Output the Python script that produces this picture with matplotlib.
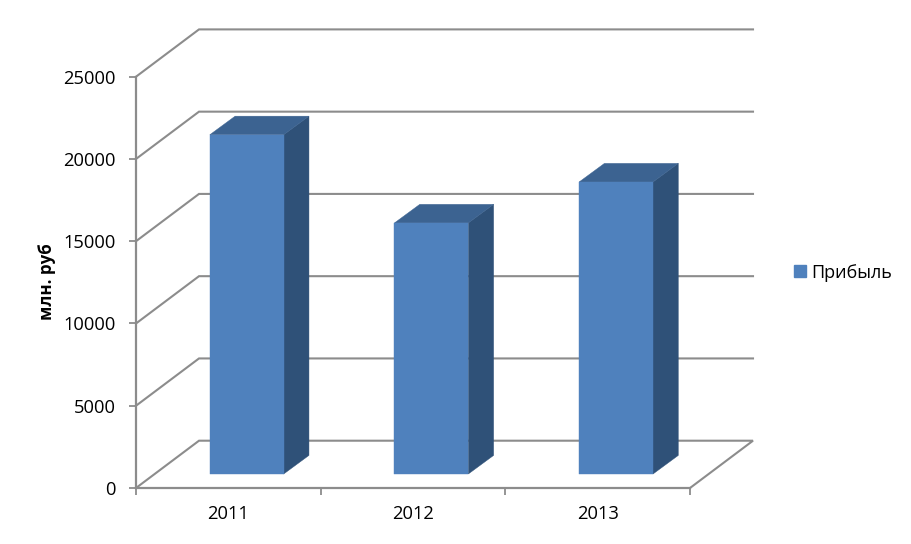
import matplotlib
matplotlib.use("Agg")
import matplotlib.pyplot as plt
from matplotlib.patches import Polygon, Patch
from matplotlib.transforms import IdentityTransform

plt.rcParams['font.family'] = ['Open Sans', 'DejaVu Sans']

years = ['2011', '2012', '2013']
profit = [20620, 15260, 17750]
y_ticks = [0, 5000, 10000, 15000, 20000, 25000]
series_name = 'Прибыль'
y_label = 'млн. руб'

W, H = 912, 544
AX_L, AX_R, AX_B, AX_T = 136, 690, 488, 76.7
WALL_DX, WALL_DY = 63, 47.3      # plot depth in pixels
BAR_DX, BAR_DY = 18.4, 14        # gap from front plane to bar front
DEPTH_DX, DEPTH_DY = 25.3, 18.6  # bar depth
BAR_W = 0.4
GRID = '#8C8C8C'
FRONT, SIDE, TOP = '#4F81BD', '#2F5178', '#3C6391'
FS = 13.2

fig = plt.figure(figsize=(W / 100, H / 100), dpi=100, facecolor='white')
ax = fig.add_axes([AX_L / W, 1 - AX_B / H, (AX_R - AX_L) / W, (AX_B - AX_T) / H])
ax.set_xlim(0, len(years))
ax.set_ylim(0, 25000)
ax.patch.set_visible(False)

for s in ('top', 'right'):
    ax.spines[s].set_visible(False)
for s in ('left', 'bottom'):
    ax.spines[s].set_color(GRID)
    ax.spines[s].set_linewidth(1.6)

ax.set_yticks(y_ticks)
ax.set_xticks(range(len(years) + 1))
ax.set_xticklabels([])
ax.tick_params(axis='both', length=5, width=1.3, color=GRID, labelsize=FS, labelcolor='black')
ax.tick_params(axis='y', pad=9.5)


def to_px(x, y, dx=0.0, dy=0.0):
    px, py = ax.transData.transform((x, y))
    return px + dx, py + dy


def add_poly(pts, color, z):
    ax.add_patch(Polygon(pts, closed=True, facecolor=color, edgecolor=color, linewidth=0.3,
                         transform=IdentityTransform(), clip_on=False, zorder=z))


# walls and gridlines
for t in y_ticks:
    a = to_px(0, t)
    b = to_px(0, t, WALL_DX, WALL_DY)
    c = to_px(len(years), t, WALL_DX, WALL_DY)
    pts = [a, b, c]
    if t == 0:
        pts.append(to_px(len(years), 0))
    ax.plot(*zip(*pts), color=GRID, lw=1.5, transform=IdentityTransform(), clip_on=False, zorder=1,
            solid_joinstyle='miter')

# bars
for i, v in enumerate(profit):
    xl, xr = i + 0.5 - BAR_W / 2, i + 0.5 + BAR_W / 2
    d0 = (BAR_DX, BAR_DY)
    d1 = (BAR_DX + DEPTH_DX, BAR_DY + DEPTH_DY)
    add_poly([to_px(xr, 0, *d0), to_px(xr, v, *d0), to_px(xr, v, *d1), to_px(xr, 0, *d1)], SIDE, 3)
    add_poly([to_px(xl, v, *d0), to_px(xr, v, *d0), to_px(xr, v, *d1), to_px(xl, v, *d1)], TOP, 3)
    add_poly([to_px(xl, 0, *d0), to_px(xr, 0, *d0), to_px(xr, v, *d0), to_px(xl, v, *d0)], FRONT, 4)

# category labels
for i, lab in enumerate(years):
    fig.text(to_px(i + 0.5, 0)[0] / W, 1 - 514 / H, lab, ha='center', va='center', fontsize=FS, color='black')

fig.text(47.5 / W, 1 - 281.5 / H, y_label, rotation=90, ha='center', va='center',
         fontsize=12.2, fontweight='bold', color='black')

fig.legend(handles=[Patch(facecolor=FRONT, edgecolor=FRONT, label=series_name)],
           loc='center left', bbox_to_anchor=(794 / W, 1 - 272.5 / H), frameon=False,
           fontsize=13, handlelength=0.66, handleheight=0.66, handletextpad=0.3,
           borderpad=0, borderaxespad=0, labelcolor='black')

fig.savefig('out.png', dpi=100, facecolor='white')
